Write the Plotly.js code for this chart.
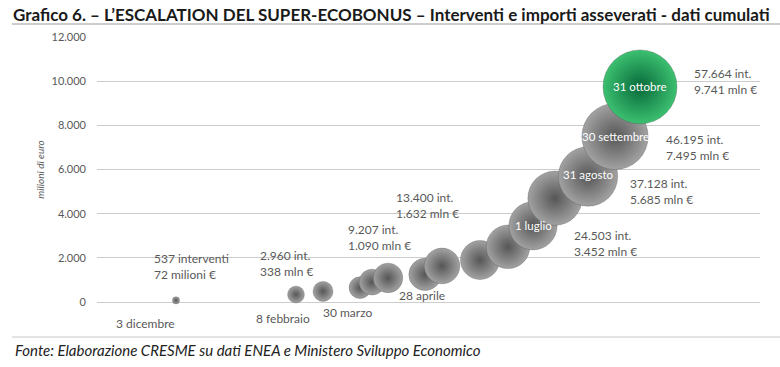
<!DOCTYPE html>
<html><head><meta charset="utf-8">
<script src="https://cdn.plot.ly/plotly-3.0.1.min.js"></script>
<style>html,body{margin:0;padding:0;background:#fff}#chart{width:780px;height:367px}</style>
</head><body><div id="chart"></div>
<script>
// ---- data ----
const posizione = [79, 199, 226, 263, 275, 291, 328, 345, 383, 411, 436, 458, 491, 518, 543];
const importi   = [72, 338, 480, 650, 900, 1090, 1250, 1632, 1900, 2500, 3452, 4700, 5685, 7495, 9741];
const interventi= [537, 2960, 4200, 5000, 7000, 9207, 11000, 13400, 16000, 20000, 24503, 31000, 37128, 46195, 57664];
const dateLabel = ['3 dicembre','8 febbraio','','','','30 marzo','','28 aprile','','','1 luglio','','31 agosto','30 settembre','31 ottobre'];
const yTicks = [0, 2000, 4000, 6000, 8000, 10000, 12000];
const titolo = 'Grafico 6. – L’ESCALATION DEL SUPER-ECOBONUS – Interventi e importi asseverati - dati cumulati';
const fonte = 'Fonte: Elaborazione CRESME su dati ENEA e Ministero Sviluppo Economico';
const yTitle = 'milioni di euro';

// ---- styling / placement ----
const FONT = 'Lato, "Open Sans", sans-serif';
const GREY = '#595959';
const maxD = 74;
const valueShift = {0:[-24,34], 1:[-38,31], 5:[-42,40], 7:[-48,60], 10:[39,-18], 12:[40,-15], 13:[49,-11], 14:[52,5]};
const dateBelowShift = {0:[-31,-23], 1:[-13,-24], 5:[-40,-35], 7:[-20,-30]};
const insideShift = {10:0, 12:2, 13:0, 14:0};

function fmt(n){ return String(n).replace(/\B(?=(\d{3})+(?!\d))/g, '.'); }

const maxInt = Math.max(...interventi);
const sizes = interventi.map(v => maxD * Math.sqrt(v / maxInt));
const last = interventi.length - 1;
const colors = interventi.map((v,i) => i === last ? '#3cc070' : '#a2a2a2');
const gradColors = interventi.map((v,i) => i === last ? '#07693a' : '#565656');

const trace = {
  type: 'scatter', mode: 'markers',
  x: posizione, y: importi,
  cliponaxis: false, hoverinfo: 'skip',
  marker: {
    size: sizes, sizemode: 'diameter', color: colors,
    gradient: {type: 'radial', color: gradColors},
    line: {width: 0.6, color: 'rgba(60,60,60,0.45)'},
    opacity: 1
  }
};

const annotations = [];
Object.keys(valueShift).forEach(k => {
  const i = +k;
  const txt = i === 0
    ? fmt(interventi[i]) + ' interventi<br>' + fmt(importi[i]) + ' milioni €'
    : fmt(interventi[i]) + ' int.<br>' + fmt(importi[i]) + ' mln €';
  annotations.push({x: posizione[i], y: importi[i], xref:'x', yref:'y', text: txt, showarrow:false,
    xanchor:'left', yanchor:'middle', align:'left', xshift: valueShift[k][0], yshift: valueShift[k][1],
    font:{family: FONT, size: 12, color: GREY}});
});
Object.keys(dateBelowShift).forEach(k => {
  const i = +k;
  annotations.push({x: posizione[i], y: importi[i], xref:'x', yref:'y', text: dateLabel[i], showarrow:false,
    xanchor:'center', yanchor:'middle', xshift: dateBelowShift[k][0], yshift: dateBelowShift[k][1],
    font:{family: FONT, size: 12, color: GREY}});
});
Object.keys(insideShift).forEach(k => {
  const i = +k;
  annotations.push({x: posizione[i], y: importi[i], xref:'x', yref:'y', text: dateLabel[i], showarrow:false,
    xanchor:'center', yanchor:'middle', yshift: insideShift[k],
    font:{family: FONT, size: 11.5, color: '#ffffff'}});
});
annotations.push({xref:'paper', yref:'paper', x: (13-97)/663, y: (302-350)/265, xanchor:'left', yanchor:'middle',
  text: '<i>' + fonte + '</i>', showarrow:false, font:{family: FONT, size: 15, color:'#222222'}});

const layout = {
  width: 780, height: 367,
  margin: {l: 97, r: 20, t: 37, b: 65},
  paper_bgcolor: '#ffffff', plot_bgcolor: '#ffffff',
  separators: ',.',
  showlegend: false,
  title: {text: '<b>' + titolo + '</b>', x: 13/780, xanchor: 'left', y: 1 - 15/367, yanchor: 'middle',
    font: {family: FONT, size: 17, color: '#1a1a1a'}},
  xaxis: {range: [0, 663], showgrid: false, zeroline: false, showticklabels: false, showline: false, fixedrange: true},
  yaxis: {range: [0, 12000], tickvals: yTicks, tickformat: ',d', showgrid: true, gridcolor: '#cccccc', gridwidth: 1,
    zeroline: true, zerolinecolor: '#cccccc', zerolinewidth: 1, showline: false, ticks: '',
    ticklabelstandoff: 10,
    tickfont: {family: FONT, size: 11, color: GREY},
    title: {text: '<i>' + yTitle + '</i>', standoff: 5, font: {family: FONT, size: 10, color: GREY}}},
  shapes: [
    {type:'line', xref:'paper', yref:'paper', x0:(12-97)/663, x1:(780-97)/663, y0:(302-24)/265, y1:(302-24)/265,
      line:{color:'#9a9a9a', width:1}},
    {type:'line', xref:'paper', yref:'paper', x0:(12-97)/663, x1:(780-97)/663, y0:(302-337)/265, y1:(302-337)/265,
      line:{color:'#c8c8c8', width:1}}
  ],
  annotations: annotations
};

Plotly.newPlot('chart', [trace], layout, {displayModeBar: false, staticPlot: true});
</script>
</body></html>
